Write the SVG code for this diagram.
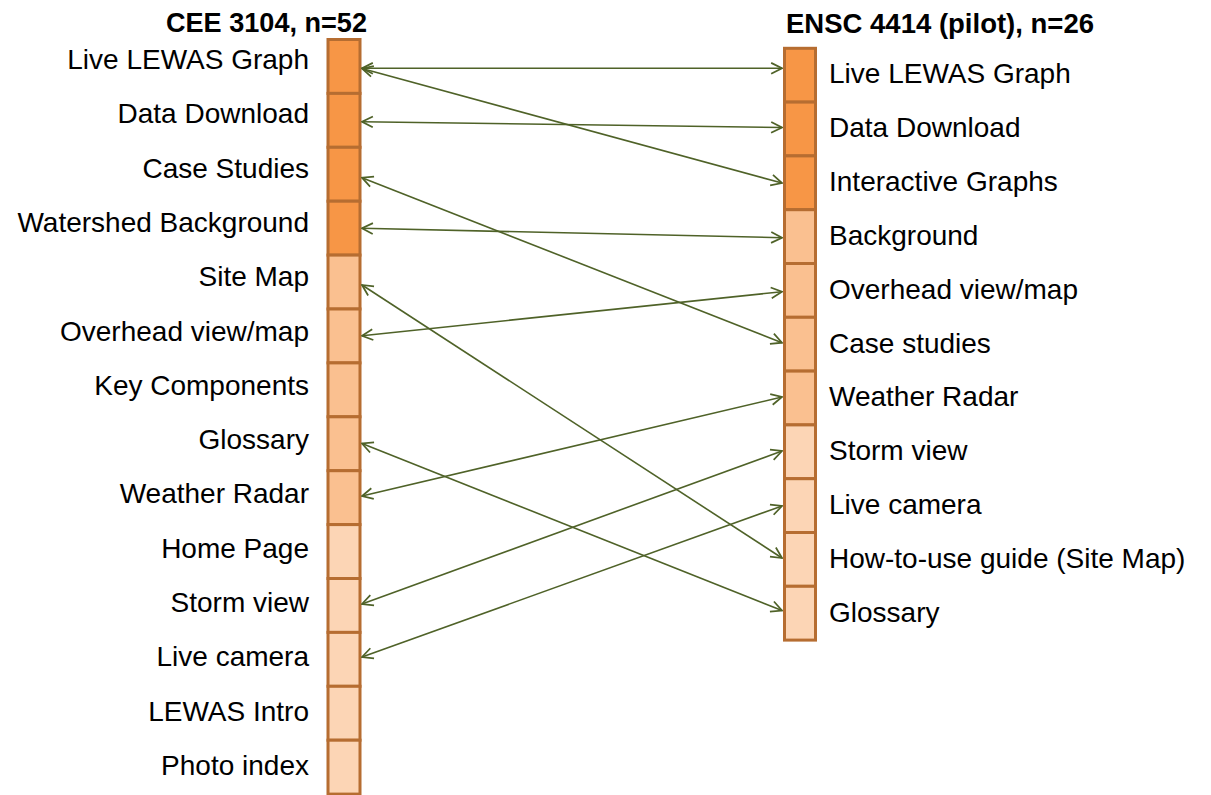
<svg xmlns="http://www.w3.org/2000/svg" width="1211" height="795" viewBox="0 0 1211 795">
  <style>
    .lbl { font-family: "Liberation Sans", Arial, sans-serif; font-size: 28px; fill: #000; }
    .lft { text-anchor: end; }
    .ttl { font-family: "Liberation Sans", Arial, sans-serif; font-size: 28px; font-weight: bold; fill: #000; }
    .box { stroke: #B66D31; stroke-width: 3; }
    .c1 { fill: #F79646; }
    .c2 { fill: #FAC090; }
    .c3 { fill: #FCD5B5; }
    .link { stroke: #4F6228; stroke-width: 1.6; fill: none; marker-start: url(#tip); marker-end: url(#tip); }
  </style>
  <defs>
    <marker id="tip" viewBox="0 0 12 12" refX="11" refY="6" markerWidth="13" markerHeight="13" markerUnits="userSpaceOnUse" orient="auto-start-reverse">
      <path d="M1,1 L11,6 L1,11" fill="none" stroke="#4F6228" stroke-width="1.6"/>
    </marker>
  </defs>
  <rect width="1211" height="795" fill="#fff"/>

  <!-- column headings -->
  <text class="ttl" x="166" y="32" textLength="201" lengthAdjust="spacingAndGlyphs">CEE 3104, n=52</text>
  <text class="ttl" x="786" y="33" textLength="308" lengthAdjust="spacingAndGlyphs">ENSC 4414 (pilot), n=26</text>

  <!-- CEE 3104 column -->
  <g id="cee-live-graph"><rect class="box c1" x="328" y="39.5" width="32" height="53.9"/><text class="lbl lft" x="309" y="69">Live LEWAS Graph</text></g>
  <g id="cee-data-download"><rect class="box c1" x="328" y="93.4" width="32" height="53.9"/><text class="lbl lft" x="309" y="123.3">Data Download</text></g>
  <g id="cee-case-studies"><rect class="box c1" x="328" y="147.3" width="32" height="53.9"/><text class="lbl lft" x="309" y="177.6">Case Studies</text></g>
  <g id="cee-watershed"><rect class="box c1" x="328" y="201.2" width="32" height="53.9"/><text class="lbl lft" x="309" y="231.9">Watershed Background</text></g>
  <g id="cee-site-map"><rect class="box c2" x="328" y="255.1" width="32" height="53.9"/><text class="lbl lft" x="309" y="286.2">Site Map</text></g>
  <g id="cee-overhead"><rect class="box c2" x="328" y="309" width="32" height="53.9"/><text class="lbl lft" x="309" y="340.5">Overhead view/map</text></g>
  <g id="cee-key-components"><rect class="box c2" x="328" y="362.9" width="32" height="53.9"/><text class="lbl lft" x="309" y="394.8">Key Components</text></g>
  <g id="cee-glossary"><rect class="box c2" x="328" y="416.8" width="32" height="53.9"/><text class="lbl lft" x="309" y="449.1">Glossary</text></g>
  <g id="cee-weather-radar"><rect class="box c2" x="328" y="470.7" width="32" height="53.9"/><text class="lbl lft" x="309" y="503.4">Weather Radar</text></g>
  <g id="cee-home-page"><rect class="box c3" x="328" y="524.6" width="32" height="53.9"/><text class="lbl lft" x="309" y="557.7">Home Page</text></g>
  <g id="cee-storm-view"><rect class="box c3" x="328" y="578.5" width="32" height="53.9"/><text class="lbl lft" x="309" y="612">Storm view</text></g>
  <g id="cee-live-camera"><rect class="box c3" x="328" y="632.4" width="32" height="53.9"/><text class="lbl lft" x="309" y="666.3">Live camera</text></g>
  <g id="cee-lewas-intro"><rect class="box c3" x="328" y="686.3" width="32" height="53.9"/><text class="lbl lft" x="309" y="720.6">LEWAS Intro</text></g>
  <g id="cee-photo-index"><rect class="box c3" x="328" y="740.2" width="32" height="53.9"/><text class="lbl lft" x="309" y="774.9">Photo index</text></g>

  <!-- ENSC 4414 column -->
  <g id="ensc-live-graph"><rect class="box c1" x="784.5" y="48.3" width="31" height="53.8"/><text class="lbl" x="829" y="83">Live LEWAS Graph</text></g>
  <g id="ensc-data-download"><rect class="box c1" x="784.5" y="102.1" width="31" height="53.8"/><text class="lbl" x="829" y="136.9">Data Download</text></g>
  <g id="ensc-interactive"><rect class="box c1" x="784.5" y="155.9" width="31" height="53.8"/><text class="lbl" x="829" y="190.8">Interactive Graphs</text></g>
  <g id="ensc-background"><rect class="box c2" x="784.5" y="209.7" width="31" height="53.8"/><text class="lbl" x="829" y="244.7">Background</text></g>
  <g id="ensc-overhead"><rect class="box c2" x="784.5" y="263.5" width="31" height="53.8"/><text class="lbl" x="829" y="298.6">Overhead view/map</text></g>
  <g id="ensc-case-studies"><rect class="box c2" x="784.5" y="317.3" width="31" height="53.8"/><text class="lbl" x="829" y="352.5">Case studies</text></g>
  <g id="ensc-weather-radar"><rect class="box c2" x="784.5" y="371.1" width="31" height="53.8"/><text class="lbl" x="829" y="406.4">Weather Radar</text></g>
  <g id="ensc-storm-view"><rect class="box c3" x="784.5" y="424.9" width="31" height="53.8"/><text class="lbl" x="829" y="460.3">Storm view</text></g>
  <g id="ensc-live-camera"><rect class="box c3" x="784.5" y="478.7" width="31" height="53.8"/><text class="lbl" x="829" y="514.2">Live camera</text></g>
  <g id="ensc-how-to-use"><rect class="box c3" x="784.5" y="532.5" width="31" height="53.8"/><text class="lbl" x="829" y="568.1">How-to-use guide (Site Map)</text></g>
  <g id="ensc-glossary"><rect class="box c3" x="784.5" y="586.3" width="31" height="53.8"/><text class="lbl" x="829" y="622">Glossary</text></g>

  <!-- two-way links between matching pages -->
  <g id="connectors">
    <line class="link" x1="362" y1="68.3" x2="782" y2="68.3"/>
    <line class="link" x1="362" y1="68.5" x2="782" y2="183"/>
    <line class="link" x1="362" y1="121.7" x2="782" y2="127.5"/>
    <line class="link" x1="362" y1="177.7" x2="782" y2="342.7"/>
    <line class="link" x1="362" y1="228.3" x2="782" y2="237.7"/>
    <line class="link" x1="362" y1="285" x2="782" y2="558"/>
    <line class="link" x1="362" y1="335.7" x2="782" y2="291.7"/>
    <line class="link" x1="362" y1="443.5" x2="782" y2="610.5"/>
    <line class="link" x1="362" y1="496" x2="782" y2="397"/>
    <line class="link" x1="362" y1="604" x2="782" y2="451"/>
    <line class="link" x1="362" y1="657" x2="782" y2="506"/>
  </g>
</svg>
